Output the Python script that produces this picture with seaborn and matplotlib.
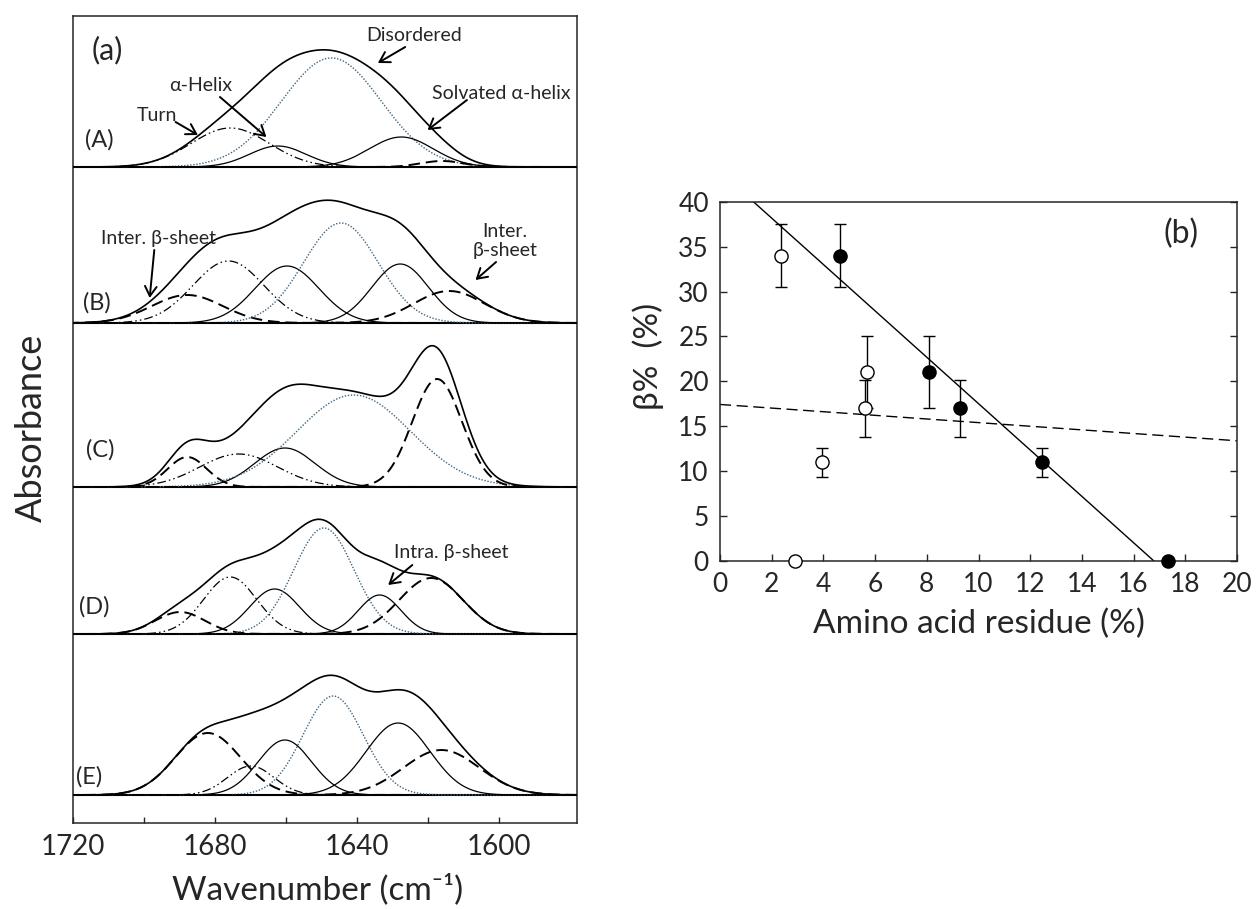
import numpy as np
import pandas as pd
import matplotlib
matplotlib.use('Agg')
import matplotlib.pyplot as plt
import seaborn as sns

# ==========================================
# DATA - panel (a): fitted bands
# centre (cm-1), height (arb.), sigma (cm-1), kind of band
# ==========================================
SPECTRA = ["(A)", "(B)", "(C)", "(D)", "(E)"]
OFFSETS = [656, 500, 336, 189, 28]

A_center = [1675.7, 1662.3, 1647.2, 1627.5, 1616.0]
A_height = [39, 21, 109, 30, 6]
A_sigma = [11, 8, 14, 9, 6]
A_kind = ["turn", "helix", "disordered", "helix", "sheet"]

B_center = [1687.8, 1676.2, 1659.7, 1644.5, 1627.8, 1614.0]
B_height = [28, 62, 57, 100, 59, 32]
B_sigma = [10, 10, 9, 10.5, 8, 10]
B_kind = ["sheet", "turn", "helix", "disordered", "helix", "sheet"]

C_center = [1687.8, 1673.3, 1660.3, 1640.9, 1617.4]
C_height = [30, 33, 39, 92, 108]
C_sigma = [5.5, 11, 8.5, 16, 7]
C_kind = ["sheet", "turn", "helix", "disordered", "sheet"]

D_center = [1689.8, 1675.7, 1663.2, 1649.3, 1633.6, 1619.1]
D_height = [22, 57, 45, 106, 39, 56]
D_sigma = [7, 7.5, 7, 8.5, 6, 9]
D_kind = ["sheet", "turn", "helix", "disordered", "helix", "sheet"]

E_center = [1682.0, 1669.9, 1660.3, 1646.7, 1628.4, 1616.2]
E_height = [62, 29, 55, 99, 72, 45]
E_sigma = [9.2, 6.5, 7.5, 8.5, 9, 10.7]
E_kind = ["sheet", "turn", "helix", "disordered", "helix", "sheet"]

BANDS = [
    (A_center, A_height, A_sigma, A_kind),
    (B_center, B_height, B_sigma, B_kind),
    (C_center, C_height, C_sigma, C_kind),
    (D_center, D_height, D_sigma, D_kind),
    (E_center, E_height, E_sigma, E_kind),
]

# ==========================================
# DATA - panel (b)
# ==========================================
open_x = [2.36, 2.9, 3.94, 5.59, 5.69]
open_y = [34, 0, 11, 17, 21]
open_err = [3.5, 0, 1.6, 3.2, 4.0]

filled_x = [4.65, 8.08, 9.28, 12.44, 17.33]
filled_y = [34, 21, 17, 11, 0]
filled_err = [3.5, 4.0, 3.2, 1.6, 0]

# ==========================================
# STYLE
# ==========================================
sns.set_style("ticks")
plt.rcParams['font.family'] = ['Lato', 'DejaVu Sans']
plt.rcParams['axes.linewidth'] = 1.1

KIND_STYLE = {
    "helix": dict(color="black", lw=0.9, linestyle="-"),
    "disordered": dict(color="#3f6580", lw=1.0, linestyle=(0, (1, 1.2))),
    "turn": dict(color="black", lw=0.9, linestyle=(0, (7, 2.5, 1.2, 2.5, 1.2, 2.5))),
    "sheet": dict(color="black", lw=1.4, linestyle=(0, (6, 3))),
}


def gauss(wn, c, h, s):
    return h * np.exp(-0.5 * ((wn - c) / s) ** 2)


fig = plt.figure(figsize=(12.59, 9.09), dpi=100)
W, H = 1259, 909
ax_a = fig.add_axes([73 / W, 1 - 823 / H, 504 / W, 807 / H])
ax_b = fig.add_axes([720 / W, 1 - 561 / H, 517 / W, 359.3 / H])

# ------------------------------------------
# (a) deconvolved amide I spectra
# ------------------------------------------
wn = np.linspace(1578, 1720, 700)
for off, (cen, hgt, sig, kind) in zip(OFFSETS, BANDS):
    ax_a.axhline(off, color="black", lw=1.5, zorder=1)
    total = np.zeros_like(wn)
    for c, h, s, k in zip(cen, hgt, sig, kind):
        band = gauss(wn, c, h, s)
        total += band
        sns.lineplot(x=wn, y=off + band, ax=ax_a, estimator=None, errorbar=None,
                     zorder=2, **KIND_STYLE[k])
    sns.lineplot(x=wn, y=off + total, ax=ax_a, estimator=None, errorbar=None,
                 color="black", lw=1.2, zorder=3)

ax_a.set_xlim(1720, 1578)
ax_a.set_ylim(0, 807)
ax_a.set_yticks([])
ax_a.set_xticks([1720, 1680, 1640, 1600])
ax_a.set_xticks([1700, 1660, 1620], minor=True)
ax_a.tick_params(axis="x", which="both", direction="in", length=4, width=1,
                 labelsize=20, pad=8)
ax_a.set_xlabel("")
ax_a.set_ylabel("")
for sp in ax_a.spines.values():
    sp.set_visible(True)

# panel / spectrum labels
ax_a.text(1714.8, 773, "(a)", fontsize=22, ha="left", va="center")
label_pos = [(1716.7, 683), (1717.2, 520), (1716.2, 373), (1718.2, 216), (1719.1, 46)]
for name, (x, y) in zip(SPECTRA, label_pos):
    ax_a.text(x, y, name, fontsize=17, ha="left", va="center")

# band annotations: (text, text centre, arrow tail, arrow tip)
notes = [
    ("Disordered", (1624.0, 788), (1626.4, 776), (1634.1, 760)),
    ("α-Helix", (1683.9, 738), (1678.6, 726), (1665.5, 686)),
    ("Turn", (1696.4, 708), (1691.1, 701), (1684.8, 688)),
    ("Solvated α-helix", (1599.3, 730), (1609.0, 723), (1620.1, 693)),
    ("Inter. β-sheet", (1695.9, 585), (1697.1, 573), (1698.4, 525)),
    ("Inter.\nβ-sheet", (1598.4, 582), (1600.8, 561), (1606.6, 543)),
    ("Intra. β-sheet", (1613.3, 271), (1624.4, 258), (1631.2, 238)),
]
for txt, tpos, tail, tip in notes:
    ax_a.text(tpos[0], tpos[1], txt, fontsize=14, ha="center", va="center",
              linespacing=1.1)
    ax_a.annotate("", xy=tip, xytext=tail,
                  arrowprops=dict(arrowstyle="->,head_length=0.5,head_width=0.3",
                                  lw=1.4, color="black", shrinkA=0, shrinkB=0,
                                  mutation_scale=14))

fig.text(31 / W, 1 - 428 / H, "Absorbance", rotation=90, fontsize=26,
         ha="center", va="center")
fig.text(318 / W, 1 - 889 / H, "Wavenumber (cm\u207b\u00b9)", fontsize=24,
         ha="center", va="center")

# ------------------------------------------
# (b) beta content vs amino acid residue
# ------------------------------------------
ax_b.set_xlim(0, 20)
ax_b.set_ylim(0, 40)

sns.regplot(x=filled_x, y=filled_y, ax=ax_b, scatter=False, ci=None,
            truncate=False, color="black", line_kws=dict(lw=1.0))
sns.regplot(x=open_x, y=open_y, ax=ax_b, scatter=False, ci=None,
            truncate=False, color="black",
            line_kws=dict(lw=1.0, linestyle=(0, (8, 4))))

for xs, ys, es in [(open_x, open_y, open_err), (filled_x, filled_y, filled_err)]:
    xs, ys, es = np.array(xs), np.array(ys), np.array(es)
    m = es > 0
    ax_b.errorbar(xs[m], ys[m], yerr=es[m], fmt="none", ecolor="black",
                  elinewidth=1.0, capsize=4, capthick=1.0, zorder=3)

sns.scatterplot(x=open_x, y=open_y, ax=ax_b, marker="o", s=90, color="white",
                edgecolor="black", linewidth=1.0, zorder=4, clip_on=False)
sns.scatterplot(x=filled_x, y=filled_y, ax=ax_b, marker="o", s=90, color="black",
                edgecolor="black", linewidth=1.0, zorder=4, clip_on=False)

ax_b.set_xlim(0, 20)
ax_b.set_ylim(0, 40)
ax_b.set_xticks(np.arange(0, 21, 2))
ax_b.set_yticks(np.arange(0, 41, 5))
ax_b.tick_params(axis="both", direction="in", length=5, width=1, labelsize=19,
                 left=True, right=True, bottom=True, top=False)
ax_b.tick_params(axis="x", pad=8)
ax_b.tick_params(axis="y", pad=8)
for sp in ax_b.spines.values():
    sp.set_visible(True)
ax_b.set_xlabel("")
ax_b.set_ylabel("")
ax_b.text(17.82, 36.4, "(b)", fontsize=23, ha="center", va="center")

fig.text(979 / W, 1 - 624 / H, "Amino acid residue (%)", fontsize=24,
         ha="center", va="center")
fig.text(648 / W, 1 - 356 / H, "β%  (%)", rotation=90, fontsize=24,
         ha="center", va="center")

fig.savefig("out.png", dpi=100)
